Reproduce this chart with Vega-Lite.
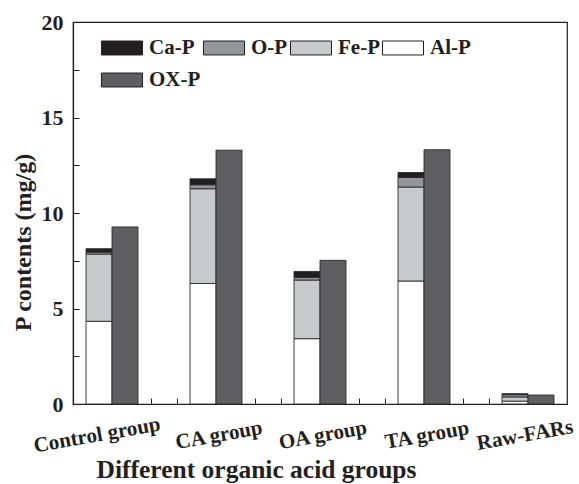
{
  "$schema": "https://vega.github.io/schema/vega-lite/v6.json",
  "width": 494,
  "height": 382,
  "autosize": {"type": "none"},
  "padding": {"left": 73, "top": 22, "right": 12, "bottom": 80},
  "background": "#ffffff",
  "config": {
    "view": {"stroke": "#231f20", "strokeWidth": 1.2},
    "font": "Liberation Serif"
  },
  "layer": [
    {
      "data": {
        "values": [
          {"group": "Control group", "bar": "fractions", "type": "Al-P", "level": 1, "value": 4.33},
          {"group": "Control group", "bar": "fractions", "type": "Fe-P", "level": 2, "value": 3.52},
          {"group": "Control group", "bar": "fractions", "type": "O-P", "level": 3, "value": 0.1},
          {"group": "Control group", "bar": "fractions", "type": "Ca-P", "level": 4, "value": 0.18},
          {"group": "Control group", "bar": "oxalate", "type": "OX-P", "level": 1, "value": 9.27},
          {"group": "CA group", "bar": "fractions", "type": "Al-P", "level": 1, "value": 6.31},
          {"group": "CA group", "bar": "fractions", "type": "Fe-P", "level": 2, "value": 4.96},
          {"group": "CA group", "bar": "fractions", "type": "O-P", "level": 3, "value": 0.21},
          {"group": "CA group", "bar": "fractions", "type": "Ca-P", "level": 4, "value": 0.31},
          {"group": "CA group", "bar": "oxalate", "type": "OX-P", "level": 1, "value": 13.29},
          {"group": "OA  group", "bar": "fractions", "type": "Al-P", "level": 1, "value": 3.42},
          {"group": "OA  group", "bar": "fractions", "type": "Fe-P", "level": 2, "value": 3.07},
          {"group": "OA  group", "bar": "fractions", "type": "O-P", "level": 3, "value": 0.14},
          {"group": "OA  group", "bar": "fractions", "type": "Ca-P", "level": 4, "value": 0.31},
          {"group": "OA  group", "bar": "oxalate", "type": "OX-P", "level": 1, "value": 7.52},
          {"group": "TA group", "bar": "fractions", "type": "Al-P", "level": 1, "value": 6.44},
          {"group": "TA group", "bar": "fractions", "type": "Fe-P", "level": 2, "value": 4.92},
          {"group": "TA group", "bar": "fractions", "type": "O-P", "level": 3, "value": 0.5},
          {"group": "TA group", "bar": "fractions", "type": "Ca-P", "level": 4, "value": 0.26},
          {"group": "TA group", "bar": "oxalate", "type": "OX-P", "level": 1, "value": 13.31},
          {"group": "Raw-FARs", "bar": "fractions", "type": "Al-P", "level": 1, "value": 0.15},
          {"group": "Raw-FARs", "bar": "fractions", "type": "Fe-P", "level": 2, "value": 0.22},
          {"group": "Raw-FARs", "bar": "fractions", "type": "O-P", "level": 3, "value": 0.12},
          {"group": "Raw-FARs", "bar": "fractions", "type": "Ca-P", "level": 4, "value": 0.05},
          {"group": "Raw-FARs", "bar": "oxalate", "type": "OX-P", "level": 1, "value": 0.47}
        ]
      },
      "mark": {"type": "bar", "stroke": "#2b2b2b", "strokeWidth": 0.9},
      "encoding": {
        "x": {
          "field": "group",
          "type": "nominal",
          "sort": null,
          "scale": {"paddingInner": 0.5, "paddingOuter": 0.125},
          "axis": {
            "orient": "bottom",
            "ticks": false,
            "domain": false,
            "labelAngle": -10,
            "labelAlign": "center",
            "labelBaseline": "middle",
            "labelPadding": 31,
            "labelOffset": {"expr": "datum.value === 'Control group' ? -15 : datum.value === 'Raw-FARs' ? -3 : 3"},
            "labelFont": "Liberation Serif",
            "labelFontWeight": "bold",
            "labelFontSize": 21,
            "labelColor": "#231f20",
            "title": "Different organic acid groups",
            "titleFont": "Liberation Serif",
            "titleFontWeight": "bold",
            "titleFontSize": 25.5,
            "titleColor": "#231f20",
            "titleX": 183,
            "titleY": 65,
            "titleAlign": "center",
            "titleBaseline": "middle"
          }
        },
        "xOffset": {"field": "bar", "type": "nominal", "sort": ["fractions", "oxalate"], "scale": {"paddingInner": 0, "paddingOuter": 0}},
        "y": {
          "field": "value",
          "type": "quantitative",
          "stack": "zero",
          "scale": {"domain": [0, 20], "nice": false},
          "axis": {
            "values": [0, 2.5, 5, 7.5, 10, 12.5, 15, 17.5, 20],
            "labelExpr": "datum.value % 5 === 0 ? format(datum.value, 'd') : ''",
            "tickSize": -6,
            "tickColor": "#231f20",
            "domainColor": "#231f20",
            "domainWidth": 1.2,
            "grid": false,
            "labelPadding": 16,
            "labelFont": "Liberation Serif",
            "labelFontWeight": "bold",
            "labelFontSize": 22,
            "labelColor": "#231f20",
            "title": "P contents (mg/g)",
            "titleFont": "Liberation Serif",
            "titleFontWeight": "bold",
            "titleFontSize": 24,
            "titleColor": "#231f20",
            "titleX": -50,
            "titleY": 220,
            "titleAlign": "center",
            "titleBaseline": "middle",
            "titleAngle": -90
          }
        },
        "order": {"field": "level", "type": "quantitative", "sort": "ascending"},
        "color": {
          "field": "type",
          "type": "nominal",
          "sort": ["Ca-P", "O-P", "Fe-P", "Al-P", "OX-P"],
          "scale": {
            "domain": ["Ca-P", "O-P", "Fe-P", "Al-P", "OX-P"],
            "range": ["#231f20", "#939598", "#c8c9cb", "#ffffff", "#5f5f61"]
          },
          "legend": {
            "orient": "none",
            "legendX": 28,
            "legendY": 5,
            "title": null,
            "columns": 4,
            "direction": "horizontal",
            "gridAlign": "none",
            "symbolType": "M-1,-0.34H1V0.34H-1Z",
            "symbolSize": 1681,
            "symbolStrokeColor": "#231f20",
            "symbolStrokeWidth": 1,
            "symbolOpacity": 1,
            "labelOffset": 6,
            "columnPadding": 0,
            "rowPadding": 1,
            "labelFont": "Liberation Serif",
            "labelFontWeight": "bold",
            "labelFontSize": 21,
            "labelColor": "#231f20"
          }
        }
      }
    },
    {
      "data": {"values": [{"u": 0}]},
      "mark": {"type": "rule", "opacity": 0},
      "encoding": {
        "x": {
          "field": "u",
          "type": "quantitative",
          "scale": {"domain": [0, 19], "nice": false},
          "axis": {
            "orient": "bottom",
            "values": [1, 2, 3, 4, 5, 6, 7, 8, 9, 10, 11, 12, 13, 14, 15, 16, 17, 18],
            "labels": false,
            "tickSize": -6,
            "tickColor": "#231f20",
            "domainColor": "#231f20",
            "domainWidth": 1.2,
            "grid": false,
            "title": null
          }
        }
      }
    }
  ],
  "resolve": {"scale": {"x": "independent"}}
}
